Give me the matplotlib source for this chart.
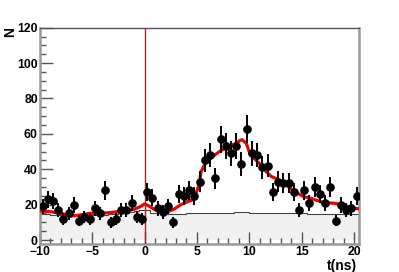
#!/usr/bin/env python3
"""
Distribución temporal t(ns): datos, fondo y ajuste
"""

import numpy as np
import matplotlib
matplotlib.use('Agg')
import matplotlib.pyplot as plt
from matplotlib.ticker import MultipleLocator

# Centros de bin (0.5 ns) y cuentas
t_centros = [-9.75 + 0.5 * k for k in range(61)]
cuentas = [19, 23, 22, 17, 12, 15, 20, 11, 13, 12,
           18, 15, 28, 10, 12, 17, 17, 21, 13, 12,
           27, 24, 18, 16, 19, 10, 26, 25, 28, 25,
           33, 45, 48, 35, 57, 53, 49, 53, 43, 63,
           49, 48, 41, 42, 27, 33, 32, 32, 27, 17,
           28, 21, 30, 26, 21, 30, 11, 20, 17, 18,
           25]

# Fondo (histograma gris)
fondo = [14.5, 14.5, 14.0, 14.0, 14.0, 13.8, 13.8, 14.0, 14.0, 14.2,
         14.2, 14.0, 14.2, 14.5, 14.5, 15.0, 15.0, 16.0, 16.5, 17.0,
         17.0, 15.5, 15.0, 15.0, 14.8, 14.8, 14.8, 14.8, 15.0, 15.0,
         15.0, 15.0, 15.2, 15.2, 15.5, 15.5, 15.5, 15.8, 16.0, 15.8,
         15.5, 15.5, 15.5, 15.5, 15.5, 15.2, 15.2, 15.2, 15.5, 15.5,
         15.0, 14.8, 14.7, 14.7, 14.7, 14.7, 14.7, 14.7, 14.7, 14.7,
         14.7]

# Curva de ajuste (rojo)
ajuste_t = [-10.0, -9.0, -8.0, -7.1, -6.1, -5.2, -4.2, -3.3, -2.6, -1.7,
            -1.0, -0.4, 0.0, 0.4, 0.9, 1.5, 2.2, 2.8, 3.4, 4.1,
            4.6, 4.9, 5.2, 5.4, 5.8, 6.3, 6.8, 7.3, 7.8, 8.2,
            8.8, 9.1, 9.3, 9.7, 10.1, 10.6, 11.1, 11.6, 12.1, 12.7,
            13.3, 13.9, 14.6, 15.2, 15.9, 16.5, 17.1, 18.1, 19.0, 20.0,
            20.5]
ajuste_n = [16.4, 16.0, 15.1, 13.6, 14.2, 15.1, 15.1, 15.5, 16.0, 16.6,
            17.4, 18.9, 20.4, 19.3, 17.4, 16.0, 16.0, 17.4, 19.8, 21.7,
            22.7, 26.5, 31.0, 38.7, 43.4, 46.3, 48.5, 50.6, 51.9, 53.3,
            54.8, 56.3, 56.7, 54.8, 48.2, 45.3, 42.5, 38.7, 35.9, 34.4,
            32.1, 29.3, 26.5, 24.5, 23.6, 22.3, 21.1, 20.8, 19.8, 18.0,
            17.6]

x_ticks = [-10, -5, 0, 5, 10, 15, 20]
y_ticks = [0, 20, 40, 60, 80, 100, 120]

plt.rcParams['font.family'] = ['Liberation Sans', 'DejaVu Sans']
plt.rcParams['font.weight'] = 'bold'

fig = plt.figure(figsize=(3.99, 2.72), dpi=100)
ax = fig.add_axes([0.100, 0.102, 0.799, 0.796])

# Histograma de fondo
bordes = np.array(t_centros) - 0.25
bordes = np.append(bordes, t_centros[-1] + 0.25)
ax.stairs(fondo, bordes, fill=True, color='#f0f0f0', zorder=1)
ax.stairs(fondo, bordes, color='#444444', lw=0.8, zorder=2)

# Ajuste
ax.plot(ajuste_t, ajuste_n, color='#ee0000', lw=2.3, zorder=3)

# Linea t = 0
ax.axvline(0, color='#ff0000', lw=1.0, zorder=4)

# Datos con errores de Poisson
errores = np.sqrt(cuentas)
ax.errorbar(t_centros, cuentas, yerr=errores, fmt='o', color='black',
            ms=5.2, elinewidth=1.4, capsize=0, zorder=5)

ax.set_xlim(-10, 20.45)
ax.set_ylim(-2.4, 120)
ax.set_xticks(x_ticks)
ax.set_yticks(y_ticks)
ax.xaxis.set_minor_locator(MultipleLocator(1))
ax.yaxis.set_minor_locator(MultipleLocator(5))
ax.set_xticklabels(['\u221210', '\u22125', '0', '5', '10', '15', '20'])
ax.tick_params(which='both', direction='in', colors='#555555',
               labelcolor='black', labelsize=8.8, top=False, right=False)
ax.tick_params(which='major', length=9, width=1.0, pad=1.5)
ax.tick_params(which='minor', length=4.5, width=1.0)

for lado in ['left', 'bottom', 'right']:
    ax.spines[lado].set_color('#999999')
    ax.spines[lado].set_linewidth(1.8)
ax.spines['top'].set_color('#555555')
ax.spines['top'].set_linewidth(1.0)

fig.text(10 / 399, 1 - 32 / 272, 'N', rotation=90, ha='center', va='center',
         fontsize=10, fontweight='bold')
fig.text(357 / 399, 1 - 266 / 272, 't(ns)', ha='right', va='center',
         fontsize=10, fontweight='bold')

plt.savefig('out.png', dpi=100)
plt.close()
